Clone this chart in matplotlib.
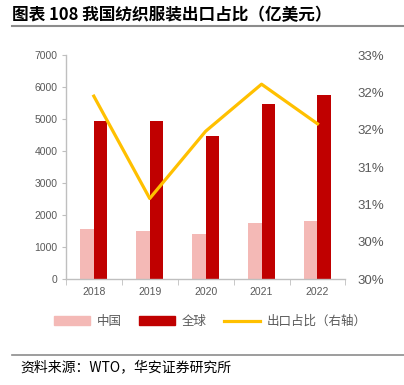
import matplotlib
matplotlib.use("Agg")
import matplotlib.pyplot as plt
import numpy as np
from matplotlib.patches import Patch
from matplotlib.lines import Line2D

plt.rcParams["font.family"] = ["Liberation Sans", "Noto Sans CJK SC"]

years = ["2018", "2019", "2020", "2021", "2022"]
china = [1570, 1500, 1410, 1750, 1820]
world = [4930, 4930, 4480, 5470, 5760]
share = [32.45, 31.08, 31.98, 32.61, 32.08]

PINK = "#F4B9B6"
RED = "#C00000"
GOLD = "#FFC000"
GRAY = "#595959"


def main():
    fig = plt.figure(figsize=(4.04, 3.85), dpi=100)
    ax = fig.add_axes([0.163, 0.275, 0.692, 0.582])

    x = np.arange(len(years))
    w = 0.24
    ax.bar(x - w / 2, china, w, color=PINK, zorder=2)
    ax.bar(x + w / 2, world, w, color=RED, zorder=2)

    ax.set_xlim(-0.5, len(years) - 0.5)
    ax.set_ylim(0, 7000)
    ax.set_yticks(range(0, 7001, 1000))
    ax.set_xticks(x)
    ax.set_xticklabels(years)
    ax.set_xticks(np.arange(-0.5, len(years)), minor=True)
    ax.tick_params(axis="x", which="major", length=0, labelsize=7.5, labelcolor=GRAY, pad=6)
    ax.tick_params(axis="x", which="minor", length=4, color="#BFBFBF", direction="out")
    ax.tick_params(axis="y", length=3, color="#BFBFBF", labelsize=7.5, labelcolor=GRAY, pad=3)
    for s in ["top", "right"]:
        ax.spines[s].set_visible(False)
    for s in ["left", "bottom"]:
        ax.spines[s].set_color("#BFBFBF")
        ax.spines[s].set_linewidth(1)

    ax2 = ax.twinx()
    ax2.plot(x, share, color=GOLD, lw=2.3, zorder=3)
    ax2.set_ylim(30, 33)
    ax2.set_yticks(np.arange(30, 33.01, 0.5))
    ax2.yaxis.set_major_formatter(plt.FuncFormatter(lambda v, p: f"{int(v)}%"))
    ax2.tick_params(axis="y", length=0, labelsize=9.5, labelcolor=GRAY, pad=9)
    for s in ax2.spines.values():
        s.set_visible(False)

    # Title and rules
    fig.text(0.03, 0.962, "图表 108 我国纺织服装出口占比（亿美元）", fontsize=12,
             fontweight="bold", color="black", va="center",
             family=["Noto Sans CJK SC", "Liberation Sans"])
    fig.add_artist(Line2D([0.03, 1.0], [0.933, 0.933], color="#8C8C8C", lw=1.5))
    fig.add_artist(Line2D([0.03, 1.0], [0.078, 0.078], color="#8C8C8C", lw=1.2))
    fig.text(0.05, 0.045, "资料来源：WTO，华安证券研究所", fontsize=10, color="black",
             va="center", family=["Noto Sans CJK SC", "Liberation Sans"])

    handles = [Patch(color=PINK), Patch(color=RED), Line2D([], [], color=GOLD, lw=2.3)]
    labels = ["中国", "全球", "出口占比（右轴）"]
    fig.legend(handles, labels, loc="center", bbox_to_anchor=(0.52, 0.165), ncol=3,
               frameon=False, labelcolor=GRAY, handlelength=2.9,
               handleheight=0.7, columnspacing=1.4, handletextpad=0.5,
               prop={"family": ["Noto Sans CJK SC"], "size": 9})

    fig.savefig("out.png", dpi=100)


if __name__ == "__main__":
    main()
